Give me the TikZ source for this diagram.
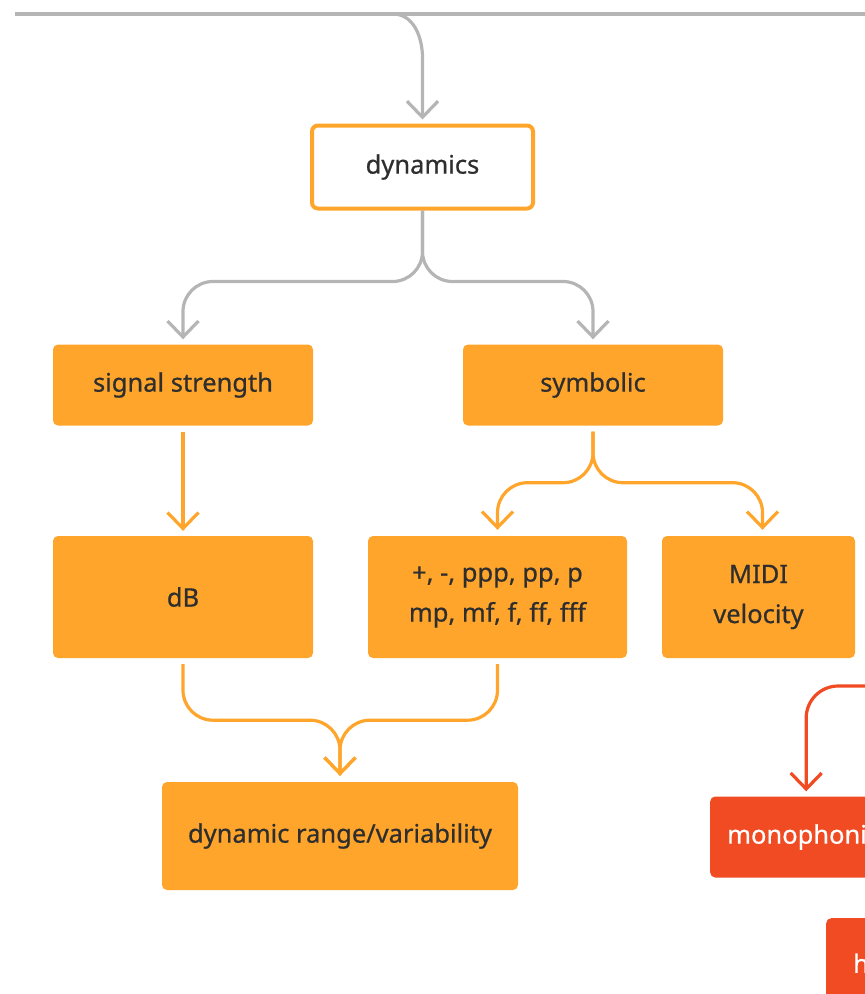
\documentclass[tikz,border=0pt]{standalone}
\usepackage{fontspec}
\setmainfont{Noto Sans}[FakeBold=0.6]
\usetikzlibrary{arrows.meta}
\definecolor{boxorange}{HTML}{FFA52B}
\definecolor{boxred}{HTML}{F04B22}
\definecolor{linkgray}{HTML}{B5B5B5}
\definecolor{inkdark}{HTML}{2E2E2E}
\tikzset{
  labelfont/.style={font=\fontsize{25.5}{40}\selectfont},
  orangebox/.style={draw=none, fill=boxorange, rounded corners=5pt, text=inkdark,
    minimum width=260pt, minimum height=81pt, align=center, labelfont},
  whitebox/.style={draw=boxorange, line width=4pt, fill=white, rounded corners=6pt, text=inkdark,
    minimum width=221pt, minimum height=83pt, labelfont},
  redbox/.style={fill=boxred, rounded corners=5pt, text=white,
    minimum height=81pt, labelfont},
  chev/.style={-{Straight Barb[length=16pt,width=31pt,line width=3.2pt]}},
  graylink/.style={draw=linkgray, line width=3.2pt, chev, rounded corners=30pt},
  orangelink/.style={draw=boxorange, line width=3.2pt, chev, rounded corners=30pt},
  redlink/.style={draw=boxred, line width=3.2pt, chev, rounded corners=32pt},
}
\begin{document}
\begin{tikzpicture}[x=1pt,y=-1pt]
  \useasboundingbox (0,0) rectangle (865,994);
  \clip (0,0) rectangle (865,994);

  % boxes
  \node[whitebox] (dyn) at (422.5,167) {dynamics};
  \node[orangebox] (sig) at (183,385) {signal strength};
  \node[orangebox] (sym) at (593,385) {symbolic};
  \node[orangebox, minimum height=122pt] (db) at (183,597) {dB};
  \node[orangebox, minimum width=259pt, minimum height=122pt] (marks) at (497.5,597)
    {+, -, ppp, pp, p\\mp, mf, f, ff, fff};
  \node[orangebox, minimum width=193pt, minimum height=122pt] (midi) at (758.5,597)
    {MIDI\\velocity};
  \node[orangebox, minimum width=356pt, minimum height=108pt] (range) at (340,836)
    {dynamic range/variability};
  \node[redbox, minimum width=220pt, anchor=west, inner xsep=0pt, text width=220pt, align=left] (mono) at (710,837)
    {\hspace*{17pt}monophonic};
  \node[redbox, minimum width=120pt, minimum height=90pt, anchor=north west, inner xsep=0pt, text width=120pt, align=left] (hbox) at (826,918)
    {\hspace*{27pt}h};

  % incoming bus line at the top
  \coordinate (busL) at (15,14);
  \coordinate (busR) at (865,14);
  \coordinate (busT) at (393,14);
  \draw[linkgray, line width=4.5pt] (busL) -- (busR);
  \draw[draw=linkgray, line width=3.2pt, chev, shorten >=4pt]
    (busT) to[out=0,in=90] (422.5,58) -- (dyn.north);

  % dynamics splits into two kinds
  \draw[graylink, shorten >=5pt] (dyn.south) -- ++(0,71) -| (sig.north);
  \draw[graylink, shorten >=5pt] (dyn.south) -- ++(0,71) -| (sym.north);

  % signal strength -> dB
  \draw[orangelink, shorten <=6pt, shorten >=5pt] (sig.south) -- (db.north);

  % symbolic -> markings and MIDI velocity
  \draw[orangelink, shorten <=6pt, shorten >=6pt] (sym.south) -- ++(0,57) -| (marks.north);
  \draw[orangelink, shorten <=6pt, shorten >=6pt] (sym.south) -- ++(0,57) -| ([xshift=4pt]midi.north);

  % dB and markings merge into dynamic range
  \draw[orangelink, shorten <=6pt, shorten >=6pt] (db.south) -- ++(0,62) -| (range.north);
  \draw[orangelink, shorten <=6pt, shorten >=6pt] (marks.south) -- ++(0,62) -| (range.north);

  % red branch entering from the right
  \coordinate (redin) at (865,686);
  \draw[redlink, shorten >=5pt] (redin) -| ([xshift=-14pt]mono.north);
\end{tikzpicture}
\end{document}
